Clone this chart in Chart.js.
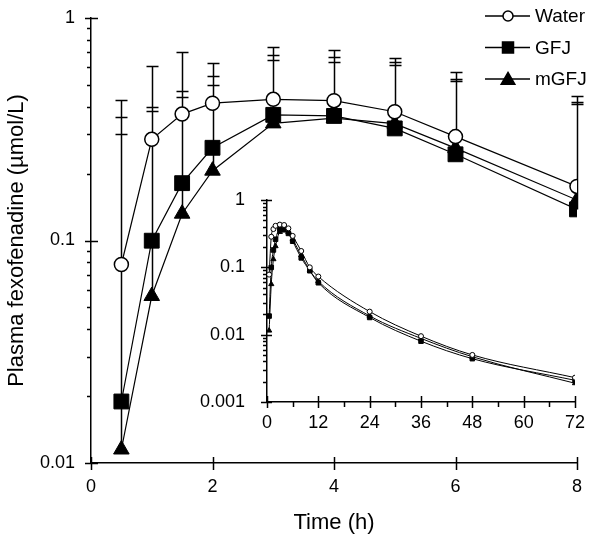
<!DOCTYPE html>
<html>
<head>
<meta charset="utf-8">
<script src="https://cdn.jsdelivr.net/npm/chart.js@4.4.1/dist/chart.umd.min.js"></script>
<style>
  body { margin: 0; background: #fff; }
  #wrap { position: relative; width: 601px; height: 547px; }
  #main { position: absolute; left: 0; top: 0; }
  #inset { position: absolute; left: 190px; top: 185px; }
</style>
</head>
<body>
<div id="wrap">
  <canvas id="main" width="601" height="547"></canvas>
  <canvas id="inset" width="411" height="250"></canvas>
</div>
<script>
// main panel, 0-8 h
var timesMain = [0.5, 1, 1.5, 2, 3, 4, 5, 6, 8];
var waterMean = [0.078, 0.285, 0.37, 0.414, 0.431, 0.425, 0.379, 0.293, 0.175];
var gfjMean = [0.0189, 0.0998, 0.181, 0.261, 0.367, 0.363, 0.319, 0.244, 0.138];
var mgfjMean = [0.0115, 0.0563, 0.132, 0.206, 0.336, 0.355, 0.335, 0.26, 0.152];
// top of the error bars (mean + SD)
var waterUpper = [0.43, 0.61, 0.70, 0.63, 0.74, 0.72, 0.66, 0.57, 0.446];
var gfjUpper = [0.36, 0.40, 0.47, 0.55, 0.68, 0.67, 0.636, 0.53, 0.42];
var mgfjUpper = [0.30, 0.38, 0.44, 0.50, 0.648, 0.634, 0.615, 0.52, 0.41];

// inset, 0-72 h
var timesInset = [0.5, 1, 1.5, 2, 3, 4, 5, 6, 8, 10, 12, 24, 36, 48, 72];
var waterInset = [0.078, 0.285, 0.37, 0.414, 0.431, 0.425, 0.379, 0.293, 0.175, 0.1, 0.073, 0.022, 0.0095, 0.005, 0.0023];
var gfjInset = [0.0189, 0.0998, 0.181, 0.261, 0.367, 0.363, 0.319, 0.244, 0.138, 0.089, 0.059, 0.018, 0.008, 0.0044, 0.0021];
var mgfjInset = [0.0115, 0.0563, 0.132, 0.206, 0.336, 0.355, 0.335, 0.26, 0.152, 0.09, 0.062, 0.019, 0.0088, 0.0047, 0.0019];

var seriesNames = ['Water', 'GFJ', 'mGFJ'];
var mainXTicks = [0, 2, 4, 6, 8];
var mainYTicks = [0.01, 0.1, 1];
var insetXTicks = [0, 12, 24, 36, 48, 60, 72];
var insetXMinor = [6, 18, 30, 42, 54, 66];
var insetYTicks = [0.001, 0.01, 0.1, 1];

Chart.defaults.font.family = 'Arial, "Liberation Sans", sans-serif';
Chart.defaults.color = '#000';

function pairs(xs, ys) {
  return xs.map(function (x, i) { return { x: x, y: ys[i] }; });
}

function logMinor(lo, hi) {
  var out = [];
  for (var d = lo; d < hi * 0.999; d *= 10) {
    for (var k = 2; k <= 9; k++) out.push(+(k * d).toPrecision(2));
  }
  return out;
}

function fixTicks(vals) {
  return function (s) { s.ticks = vals.map(function (v) { return { value: v }; }); };
}

// tick marks drawn on the library scales (major ticks cross the axis)
function tickMarks(spec) {
  return {
    id: 'tickMarks',
    afterDraw: function (chart) {
      var ctx = chart.ctx, xs = chart.scales.x, ys = chart.scales.y;
      ctx.save();
      ctx.strokeStyle = '#000';
      ctx.lineWidth = 1.5;
      ctx.beginPath();
      spec.xMajor.forEach(function (v) {
        var p = Math.round(xs.getPixelForValue(v)) + 0.5;
        ctx.moveTo(p, xs.top - spec.xIn); ctx.lineTo(p, xs.top + spec.xOut);
      });
      spec.xMinor.forEach(function (v) {
        var p = Math.round(xs.getPixelForValue(v)) + 0.5;
        ctx.moveTo(p, xs.top - 1); ctx.lineTo(p, xs.top + spec.xMinorOut);
      });
      spec.yMajor.forEach(function (v) {
        var p = Math.round(ys.getPixelForValue(v)) + 0.5;
        ctx.moveTo(ys.right - spec.yOut, p); ctx.lineTo(ys.right + spec.yIn, p);
      });
      spec.yMinor.forEach(function (v) {
        var p = Math.round(ys.getPixelForValue(v)) + 0.5;
        ctx.moveTo(ys.right - spec.yMinorOut, p); ctx.lineTo(ys.right, p);
      });
      ctx.stroke();
      ctx.restore();
    }
  };
}

var errorBars = {
  id: 'errorBars',
  beforeDatasetsDraw: function (chart) {
    var ctx = chart.ctx, xs = chart.scales.x, ys = chart.scales.y;
    var means = [waterMean, gfjMean, mgfjMean];
    var uppers = [waterUpper, gfjUpper, mgfjUpper];
    ctx.save();
    ctx.strokeStyle = '#000';
    ctx.lineWidth = 1.5;
    ctx.beginPath();
    for (var s = 0; s < 3; s++) {
      for (var i = 0; i < timesMain.length; i++) {
        var x = Math.round(xs.getPixelForValue(timesMain[i])) + 0.5;
        var y0 = ys.getPixelForValue(means[s][i]);
        var y1 = Math.round(ys.getPixelForValue(uppers[s][i])) + 0.5;
        ctx.moveTo(x, y0); ctx.lineTo(x, y1);
        ctx.moveTo(x - 6, y1); ctx.lineTo(x + 6, y1);
      }
    }
    ctx.stroke();
    ctx.restore();
  }
};

function marker(ctx, style, x, y, r) {
  ctx.beginPath();
  if (style === 'circle') {
    ctx.arc(x, y, r, 0, Math.PI * 2);
    ctx.fillStyle = '#fff';
  } else if (style === 'rect') {
    ctx.rect(x - r, y - r, 2 * r, 2 * r);
    ctx.fillStyle = '#000';
  } else {
    ctx.moveTo(x, y - r);
    ctx.lineTo(x + r * 1.05, y + r * 0.8);
    ctx.lineTo(x - r * 1.05, y + r * 0.8);
    ctx.closePath();
    ctx.fillStyle = '#000';
  }
  ctx.fill();
  ctx.stroke();
}

var legendBox = {
  id: 'legendBox',
  afterDraw: function (chart) {
    var ctx = chart.ctx;
    var styles = ['circle', 'rect', 'triangle'];
    var sizes = [5, 5.5, 6.5];
    ctx.save();
    ctx.strokeStyle = '#000';
    ctx.lineWidth = 1.5;
    ctx.font = '19px Arial, "Liberation Sans", sans-serif';
    ctx.textBaseline = 'middle';
    seriesNames.forEach(function (name, i) {
      var y = 16 + i * 31.5;
      ctx.beginPath();
      ctx.moveTo(485, y); ctx.lineTo(530, y);
      ctx.stroke();
      marker(ctx, styles[i], 508, y, sizes[i]);
      ctx.fillStyle = '#000';
      ctx.fillText(name, 535, y + 1);
    });
    ctx.restore();
  }
};

function series(label, data, style, radius, fill, pw, lw, smooth) {
  return {
    label: label,
    data: data,
    pointStyle: style,
    pointRadius: radius,
    pointBackgroundColor: fill,
    pointBorderColor: '#000',
    pointBorderWidth: pw,
    borderColor: '#000',
    borderWidth: lw,
    cubicInterpolationMode: smooth ? 'monotone' : 'default',
    tension: 0
  };
}

// hidden library ticks only set the label offset; visible ticks come from tickMarks
function axisStyle(gap) {
  return {
    grid: { drawOnChartArea: false, drawTicks: true, tickLength: gap, tickColor: 'rgba(0,0,0,0)' },
    border: { color: '#000', width: 1.5 }
  };
}

new Chart(document.getElementById('main'), {
  type: 'line',
  data: {
    datasets: [
      series('Water', pairs(timesMain, waterMean), 'circle', 7, '#fff', 1.5, 1.2),
      series('GFJ', pairs(timesMain, gfjMean), 'rect', 10.5, '#000', 1, 1.2),
      series('mGFJ', pairs(timesMain, mgfjMean), 'triangle', 9, '#000', 1, 1.2)
    ]
  },
  options: {
    responsive: false,
    animation: false,
    events: [],
    layout: { padding: { top: 18, right: 24, left: 0, bottom: 0 } },
    plugins: { legend: { display: false }, tooltip: { enabled: false } },
    scales: {
      x: Object.assign(axisStyle(13), {
        type: 'linear', min: 0, max: 8,
        afterBuildTicks: fixTicks(mainXTicks),
        afterFit: function (s) { s.height = 84; },
        ticks: { padding: 0, font: { size: 18 }, maxRotation: 0, autoSkip: false },
        title: { display: true, text: 'Time (h)', font: { size: 22 }, padding: { top: 0, bottom: 11 } }
      }),
      y: Object.assign(axisStyle(16), {
        type: 'logarithmic', min: 0.01, max: 1,
        afterBuildTicks: fixTicks(mainYTicks),
        afterFit: function (s) { s.width = 91; },
        ticks: { padding: 0, font: { size: 18 }, autoSkip: false, callback: function (v) { return String(v); } },
        title: { display: true, text: 'Plasma fexofenadine (µmol/L)', font: { size: 22 }, padding: { top: 4, bottom: 0 } }
      })
    }
  },
  plugins: [errorBars, tickMarks({
    xMajor: mainXTicks, xMinor: [], xIn: 6, xOut: 7, xMinorOut: 0,
    yMajor: mainYTicks, yMinor: logMinor(0.01, 1), yOut: 6, yIn: 7, yMinorOut: 4
  }), legendBox]
});

new Chart(document.getElementById('inset'), {
  type: 'line',
  data: {
    datasets: [
      series('Water', pairs(timesInset, waterInset), 'circle', 2.5, '#fff', 1, 1, true),
      series('GFJ', pairs(timesInset, gfjInset), 'rect', 3.2, '#000', 1, 1, true),
      series('mGFJ', pairs(timesInset, mgfjInset), 'triangle', 3, '#000', 1, 1, true)
    ]
  },
  options: {
    responsive: false,
    animation: false,
    events: [],
    layout: { padding: { top: 15, right: 26, left: 0, bottom: 0 } },
    plugins: { legend: { display: false }, tooltip: { enabled: false } },
    scales: {
      x: Object.assign(axisStyle(10), {
        type: 'linear', min: 0, max: 72,
        afterBuildTicks: fixTicks(insetXTicks),
        afterFit: function (s) { s.height = 33; },
        ticks: { padding: 0, font: { size: 18 }, maxRotation: 0, autoSkip: false }
      }),
      y: Object.assign(axisStyle(22), {
        type: 'logarithmic', min: 0.001, max: 1,
        afterBuildTicks: fixTicks(insetYTicks),
        afterFit: function (s) { s.width = 77; },
        ticks: { padding: 0, font: { size: 18 }, autoSkip: false, callback: function (v) { return String(v); } }
      })
    }
  },
  plugins: [tickMarks({
    xMajor: insetXTicks, xMinor: insetXMinor, xIn: 6, xOut: 6, xMinorOut: 5,
    yMajor: insetYTicks, yMinor: logMinor(0.001, 1), yOut: 6, yIn: 5, yMinorOut: 4
  })]
});
</script>
</body>
</html>
